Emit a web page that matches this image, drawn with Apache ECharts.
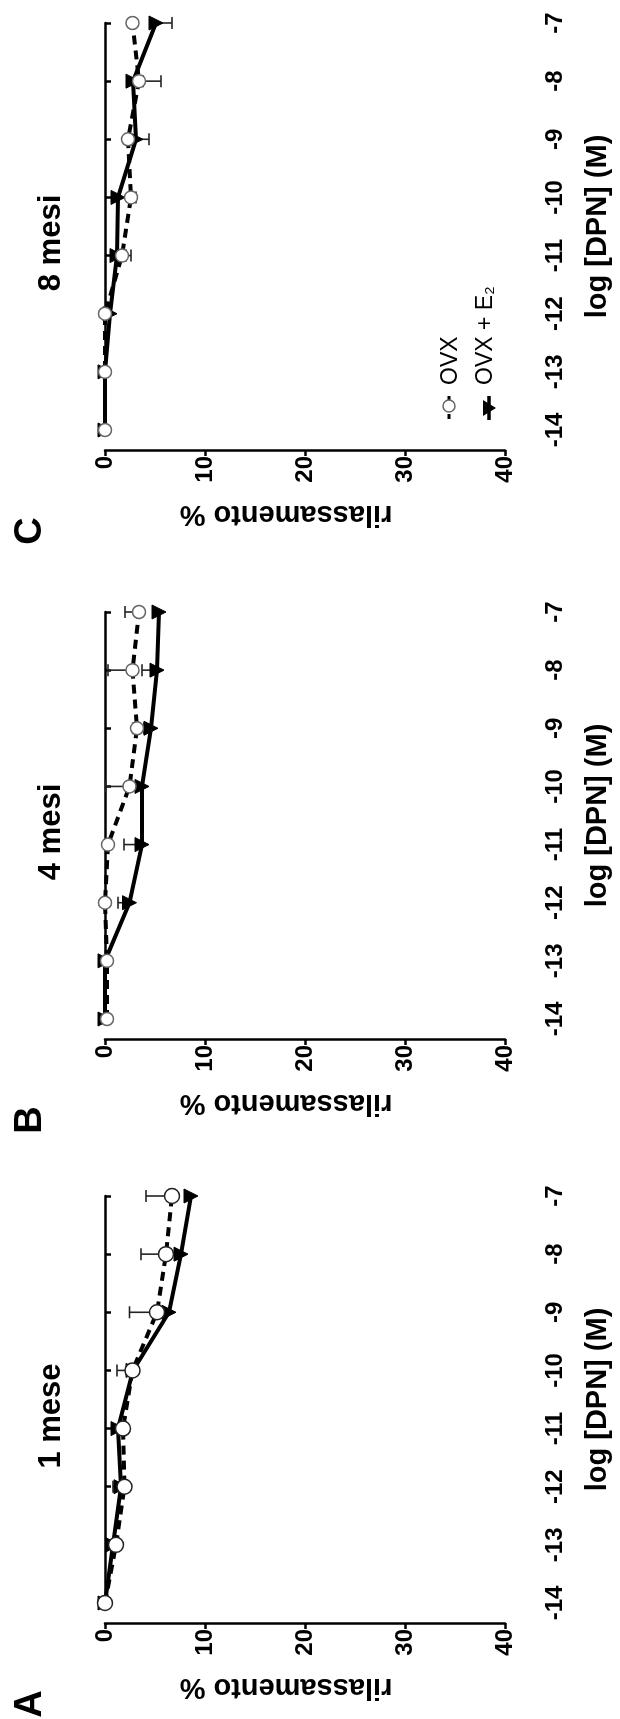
<!DOCTYPE html>
<html lang="it">
<head>
    <meta charset="UTF-8">
    <title>rilassamento DPN</title>
    <script src="https://cdn.jsdelivr.net/npm/echarts@6/dist/echarts.min.js"></script>
</head>
<body style="margin:0;background:#fff">
<div id="main" style="width:620px;height:1719px;"></div>
<script>
    // log [DPN] (M)
    const doses = [-14, -13, -12, -11, -10, -9, -8, -7];

    // panel C - 8 mesi
    const ovx8 = [0, 0, 0, 1.7, 2.6, 2.3, 3.4, 2.75];
    const ovx8Err = [0, 0, 0, 0.9, 0.5, 0, 2.2, 0];
    const e28 = [0, 0, 0.5, 1.2, 1.3, 3.1, 2.8, 5.1];
    const e28Err = [0, 0, 0, 0.9, 0, 1.3, 1.0, 1.6];

    // panel B - 4 mesi
    const ovx4 = [0.2, 0.2, 0, 0.3, 2.45, 3.2, 2.75, 3.4];
    const ovx4Err = [0, 0, 0, 0, -2.4, -0.4, -2.45, -1.4];
    const e24 = [0, 0, 2.45, 3.7, 3.7, 4.6, 5.2, 5.4];
    const e24Err = [0, 0, -1.15, -1.8, 0, -0.7, -1.5, 0];

    // panel A - 1 mese
    const ovx1 = [0, 1.1, 1.95, 1.8, 2.75, 5.2, 6.1, 6.7];
    const ovx1Err = [0, 0, 0, 0, -1.55, -2.75, -2.5, -2.6];
    const e21 = [0, 0.8, 1.6, 1.3, 2.8, 6.4, 7.6, 8.6];
    const e21Err = [0, -0.6, -0.8, -0.6, 0, 0, -0.5, 0];

    const valueTicks = [0, 10, 20, 30, 40];
    const panelTitles = ['8 mesi', '4 mesi', '1 mese'];
    const panelLetters = ['C', 'B', 'A'];

    const panels = [
        {ovx: ovx8, ovxErr: ovx8Err, e2: e28, e2Err: e28Err},
        {ovx: ovx4, ovxErr: ovx4Err, e2: e24, e2Err: e24Err},
        {ovx: ovx1, ovxErr: ovx1Err, e2: e21, e2Err: e21Err}
    ];

    const FONT = '"Liberation Sans", Arial, sans-serif';
    const tops = [23, 612, 1196];
    const plotH = 407;

    function pts(vals) {
        return doses.map(function (d, k) { return [vals[k], d]; });
    }
    function errPts(vals, errs) {
        const out = [];
        doses.forEach(function (d, k) {
            if (errs[k] !== 0) out.push([vals[k], d, errs[k]]);
        });
        return out;
    }
    function renderErr(params, api) {
        const v = api.value(0), c = api.value(1), e = api.value(2);
        const p0 = api.coord([v, c]);
        const p1 = api.coord([v + e, c]);
        const st = {stroke: '#222', lineWidth: 1.6};
        return {
            type: 'group',
            children: [
                {type: 'line', shape: {x1: p0[0], y1: p0[1], x2: p1[0], y2: p1[1]}, style: st},
                {type: 'line', shape: {x1: p1[0], y1: p1[1] - 6, x2: p1[0], y2: p1[1] + 6}, style: st}
            ]
        };
    }

    const grid = [], xAxis = [], yAxis = [], series = [], graphic = [];

    panels.forEach(function (p, i) {
        grid.push({left: 105, width: 408, top: tops[i], height: plotH});
        xAxis.push({
            type: 'value', gridIndex: i, min: valueTicks[0], max: valueTicks[valueTicks.length - 1],
            interval: 10, position: 'bottom', offset: 20,
            axisLine: {show: true, lineStyle: {color: '#000', width: 2.5}},
            axisTick: {show: true, length: 6, lineStyle: {color: '#000', width: 2.5}},
            axisLabel: {rotate: 90, margin: 6, color: '#000', fontSize: 24, fontWeight: 'bold', fontFamily: FONT},
            splitLine: {show: false},
            name: 'rilassamento %', nameLocation: 'middle', nameRotate: 180, nameGap: 49,
            nameTextStyle: {color: '#000', fontSize: 29, fontWeight: 'bold', fontFamily: FONT, padding: [0, 0, 0, 38]}
        });
        yAxis.push({
            type: 'value', gridIndex: i, min: -14, max: -7, interval: 1, position: 'right', offset: 19,
            axisLine: {show: true, lineStyle: {color: '#000', width: 2.5}},
            axisTick: {show: true, length: 6, lineStyle: {color: '#000', width: 2.5}},
            axisLabel: {rotate: 90, margin: 19, color: '#000', fontSize: 24, fontWeight: 'bold', fontFamily: FONT},
            splitLine: {show: false},
            name: 'log [DPN] (M)', nameLocation: 'middle', nameRotate: 90, nameGap: 59,
            nameTextStyle: {color: '#000', fontSize: 29, fontWeight: 'bold', fontFamily: FONT}
        });

        series.push({
            type: 'custom', xAxisIndex: i, yAxisIndex: i, renderItem: renderErr,
            data: errPts(p.e2, p.e2Err), z: 1, silent: true
        });
        series.push({
            type: 'custom', xAxisIndex: i, yAxisIndex: i, renderItem: renderErr,
            data: errPts(p.ovx, p.ovxErr), z: 1, silent: true
        });
        series.push({
            name: 'OVX + E2', type: 'line', xAxisIndex: i, yAxisIndex: i, data: pts(p.e2),
            clip: false, z: 3,
            symbol: 'triangle', symbolSize: 14, symbolRotate: -90,
            lineStyle: {color: '#000', width: 4},
            itemStyle: {color: '#000', borderColor: '#000'}
        });
        series.push({
            name: 'OVX', type: 'line', xAxisIndex: i, yAxisIndex: i, data: pts(p.ovx),
            clip: false, z: 4,
            symbol: 'circle', symbolSize: i === 2 ? 15 : 13, showAllSymbol: true,
            lineStyle: {color: '#000', width: 4, type: [9, 6]},
            itemStyle: {color: '#fff', borderColor: i === 2 ? '#222' : '#666', borderWidth: 1.5}
        });

        // rotated title and panel letter
        graphic.push({
            type: 'text', x: 51, y: tops[i] + 220, rotation: Math.PI / 2,
            style: {text: panelTitles[i], font: 'bold 31px ' + FONT, fill: '#000',
                align: 'center', verticalAlign: 'middle', textAlign: 'center', textVerticalAlign: 'middle'}
        });
        graphic.push({
            type: 'text', x: 31, y: tops[i] + plotH + 101, rotation: Math.PI / 2,
            style: {text: panelLetters[i], font: 'bold 38px ' + FONT, fill: '#000',
                align: 'center', verticalAlign: 'middle', textAlign: 'center', textVerticalAlign: 'middle'}
        });
    });

    // legend (panel C)
    graphic.push(
        {type: 'line', shape: {x1: 449, y1: 396, x2: 449, y2: 419}, style: {stroke: '#000', lineWidth: 3, lineDash: [5, 4]}},
        {type: 'circle', shape: {cx: 449, cy: 406, r: 6}, style: {fill: '#fff', stroke: '#666', lineWidth: 1.5}},
        {type: 'line', shape: {x1: 489, y1: 396, x2: 489, y2: 420}, style: {stroke: '#000', lineWidth: 3.5}},
        {type: 'polygon', shape: {points: [[483, 400], [483, 416], [496, 408]]}, style: {fill: '#000'}},
        {
            type: 'text', x: 451, y: 385, rotation: Math.PI / 2,
            style: {text: 'OVX', font: '23px ' + FONT, fill: '#000',
                align: 'left', verticalAlign: 'middle', textAlign: 'left', textVerticalAlign: 'middle'}
        },
        {
            type: 'text', x: 486, y: 385, rotation: Math.PI / 2,
            style: {text: 'OVX + E\u2082', font: '23px ' + FONT, fill: '#000',
                align: 'left', verticalAlign: 'middle', textAlign: 'left', textVerticalAlign: 'middle'}
        }
    );

    const myChart = echarts.init(document.getElementById('main'));
    myChart.setOption({
        animation: false,
        backgroundColor: '#fff',
        grid: grid,
        xAxis: xAxis,
        yAxis: yAxis,
        series: series,
        graphic: graphic
    });
</script>
</body>
</html>
